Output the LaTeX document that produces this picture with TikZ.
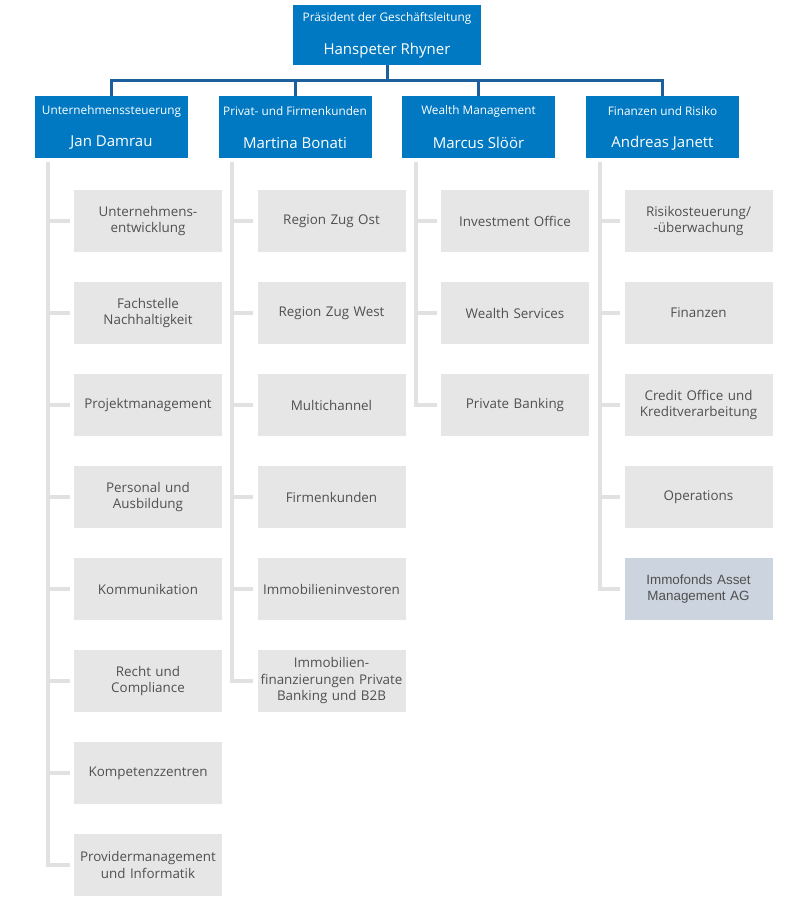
\documentclass[tikz,border=0pt]{standalone}
\usepackage{fontspec}
\setmainfont{Open Sans}
\newfontfamily\arialfont{Liberation Sans}
\usetikzlibrary{positioning}

\definecolor{headblue}{HTML}{0079C2}
\definecolor{linkblue}{HTML}{1C5F9C}
\definecolor{boxgrey}{HTML}{E6E6E6}
\definecolor{linegrey}{HTML}{E1E1E1}
\definecolor{textgrey}{HTML}{505050}
\definecolor{subsid}{HTML}{CBD4DF}

\tikzset{
  head/.style={fill=headblue, minimum width=153pt, minimum height=62pt, inner sep=0pt},
  topbox/.style={fill=headblue, minimum width=188pt, minimum height=60pt, inner sep=0pt},
  headsub/.style={text=white, inner sep=0pt, font=\fontsize{11.8}{14}\selectfont},
  headname/.style={text=white, inner sep=0pt, font=\fontsize{15}{18}\selectfont},
  unit/.style={fill=boxgrey, minimum width=148pt, minimum height=62pt, text width=146pt,
    align=center, inner sep=0pt, text=textgrey, font=\fontsize{13.4}{16.5}\selectfont},
  subsidiary/.style={unit, fill=subsid, font=\arialfont\fontsize{13.4}{16.5}\selectfont},
  bluelink/.style={draw=linkblue, line width=3pt},
  greylink/.style={draw=linegrey, line width=4pt, shorten >=4pt}
}

\begin{document}
\begin{tikzpicture}[x=1pt, y=-1pt]
\useasboundingbox (0,0) rectangle (794,902);

% top
\node[topbox] (top) at (387,35) {};
\node[headsub] (topt) at (387,18) {Präsident der Geschäftsleitung};
\node[headname] (topn) at (387,51) {Hanspeter Rhyner};

% heads
\node[head] (h1) at (111.5,127) {};
\node[headsub] (h1t) at (111.5,111) {Unternehmenssteuerung};
\node[headname] (h1n) at (111.5,143) {Jan Damrau};
\node[head] (h2) at (295,127) {};
\node[headsub] (h2t) at (295,111) {Privat- und Firmenkunden};
\node[headname] (h2n) at (295,143) {Martina Bonati};
\node[head] (h3) at (478.5,127) {};
\node[headsub] (h3t) at (478.5,111) {Wealth Management};
\node[headname] (h3n) at (478.5,143) {Marcus Slöör};
\node[head] (h4) at (662.5,127) {};
\node[headsub] (h4t) at (662.5,111) {Finanzen und Risiko};
\node[headname] (h4n) at (662.5,143) {Andreas Janett};

\coordinate (bar) at (387,81);
\draw[bluelink] (top.south) -- (bar);
\draw[bluelink] (h1.north) -- ++(0,-15) -| (h4.north);
\draw[bluelink] (h2.north) -- (h2.north |- bar);
\draw[bluelink] (h3.north) -- (h3.north |- bar);

% units Unternehmenssteuerung
\node[unit] (u11) at (148,221) {Unternehmens-\\entwicklung};
\node[unit] (u12) at (148,313) {Fachstelle\\Nachhaltigkeit};
\node[unit] (u13) at (148,405) {Projektmanagement};
\node[unit] (u14) at (148,497) {Personal und\\Ausbildung};
\node[unit] (u15) at (148,589) {Kommunikation};
\node[unit] (u16) at (148,681) {Recht und\\Compliance};
\node[unit] (u17) at (148,773) {Kompetenzzentren};
\node[unit] (u18) at (148,865) {Providermanagement\\und Informatik};

% units Privat- und Firmenkunden
\node[unit] (u21) at (331.5,221) {Region Zug Ost};
\node[unit] (u22) at (331.5,313) {Region Zug West};
\node[unit] (u23) at (331.5,405) {Multichannel};
\node[unit] (u24) at (331.5,497) {Firmenkunden};
\node[unit] (u25) at (331.5,589) {Immobilieninvestoren};
\node[unit] (u26) at (331.5,681) {Immobilien-\\finanzierungen Private\\Banking und B2B};

% units Wealth Management
\node[unit] (u31) at (515,221) {Investment Office};
\node[unit] (u32) at (515,313) {Wealth Services};
\node[unit] (u33) at (515,405) {Private Banking};

% units Finanzen und Risiko
\node[unit] (u41) at (698.5,221) {Risikosteuerung/\\-überwachung};
\node[unit] (u42) at (698.5,313) {Finanzen};
\node[unit] (u43) at (698.5,405) {Credit Office und\\Kreditverarbeitung};
\node[unit] (u44) at (698.5,497) {Operations};
\node[subsidiary] (u45) at (698.5,589) {Immofonds Asset\\Management AG};

% grey links
\coordinate (c1) at ([xshift=13pt,yshift=-4pt]h1.south west);
\coordinate (c2) at ([xshift=14pt,yshift=-4pt]h2.south west);
\coordinate (c3) at ([xshift=14pt,yshift=-4pt]h3.south west);
\coordinate (c4) at ([xshift=14pt,yshift=-4pt]h4.south west);

\draw[greylink] (c1) |- (u18.west);
\draw[greylink] (u11.west -| c1) -- (u11.west);
\draw[greylink] (u12.west -| c1) -- (u12.west);
\draw[greylink] (u13.west -| c1) -- (u13.west);
\draw[greylink] (u14.west -| c1) -- (u14.west);
\draw[greylink] (u15.west -| c1) -- (u15.west);
\draw[greylink] (u16.west -| c1) -- (u16.west);
\draw[greylink] (u17.west -| c1) -- (u17.west);

\draw[greylink] (c2) |- (u26.west);
\draw[greylink] (u21.west -| c2) -- (u21.west);
\draw[greylink] (u22.west -| c2) -- (u22.west);
\draw[greylink] (u23.west -| c2) -- (u23.west);
\draw[greylink] (u24.west -| c2) -- (u24.west);
\draw[greylink] (u25.west -| c2) -- (u25.west);

\draw[greylink] (c3) |- (u33.west);
\draw[greylink] (u31.west -| c3) -- (u31.west);
\draw[greylink] (u32.west -| c3) -- (u32.west);

\draw[greylink] (c4) |- (u45.west);
\draw[greylink] (u41.west -| c4) -- (u41.west);
\draw[greylink] (u42.west -| c4) -- (u42.west);
\draw[greylink] (u43.west -| c4) -- (u43.west);
\draw[greylink] (u44.west -| c4) -- (u44.west);

\end{tikzpicture}
\end{document}
